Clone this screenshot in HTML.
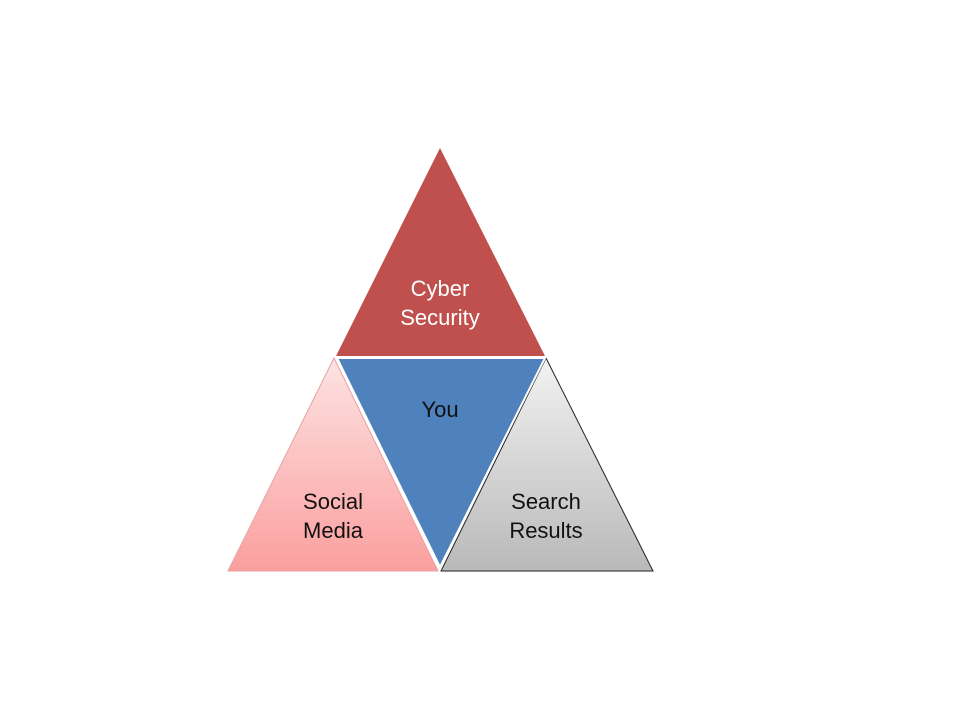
<!DOCTYPE html>
<html><head><meta charset="utf-8"><style>
html,body{margin:0;padding:0;background:#fff;width:960px;height:720px;overflow:hidden}
</style></head><body>
<svg width="960" height="720" viewBox="0 0 960 720" xmlns="http://www.w3.org/2000/svg" font-family="Liberation Sans, sans-serif">
<defs>
<linearGradient id="pk" x1="0" y1="0" x2="0" y2="1">
<stop offset="0" stop-color="#fde3e3"/><stop offset="1" stop-color="#fb9f9f"/></linearGradient>
<linearGradient id="gr" x1="0" y1="0" x2="0" y2="1">
<stop offset="0" stop-color="#f2f2f2"/><stop offset="1" stop-color="#b9b9b9"/></linearGradient>
</defs>
<polygon points="440,148 545,356 336,356" fill="#c0504d"/>
<polygon points="334,358 438,571 228,571" fill="url(#pk)" stroke="#e8a0a0" stroke-width="1"/>
<polygon points="546,358 653,571 441,571" fill="url(#gr)" stroke="#222" stroke-width="1"/>
<polygon points="337,358 545,358 440,567" fill="#4f81bd" stroke="#fff" stroke-width="2"/>
<g font-size="22" text-anchor="middle">
<text x="440" y="296" fill="#fff">Cyber</text>
<text x="440" y="325" fill="#fff">Security</text>
<text x="440" y="417" fill="#111">You</text>
<text x="333" y="509" fill="#111">Social</text>
<text x="333" y="538" fill="#111">Media</text>
<text x="546" y="509" fill="#111">Search</text>
<text x="546" y="538" fill="#111">Results</text>
</g>
</svg>
</body></html>
